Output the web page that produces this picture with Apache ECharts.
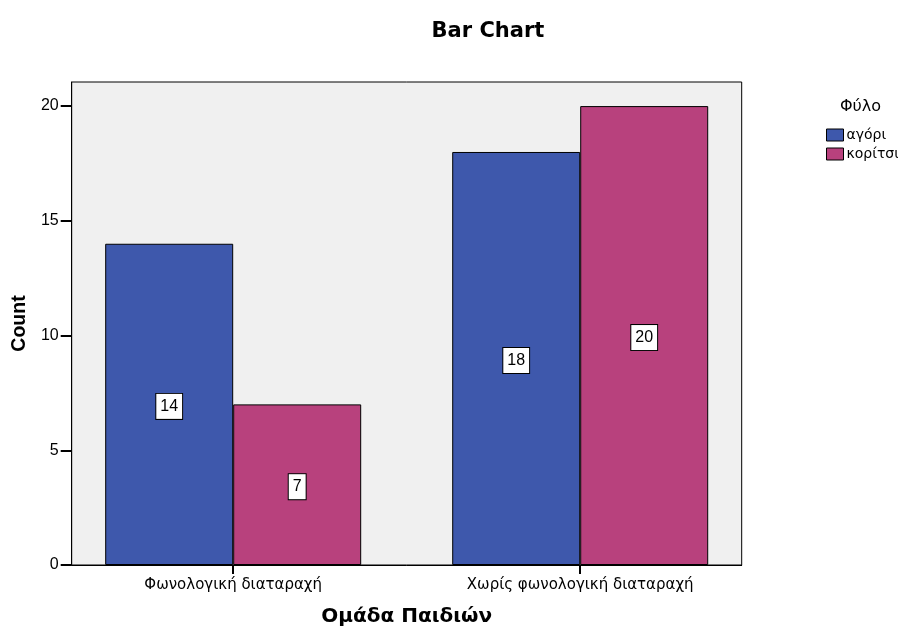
<!DOCTYPE html>
<html><head><meta charset="utf-8">
<script src="https://cdn.jsdelivr.net/npm/echarts@6/dist/echarts.min.js"></script>
<style>html,body{margin:0;padding:0;background:#fff}#c{width:898px;height:628px}</style>
</head><body><div id="c"></div>
<script>
var categories = ['Φωνολογική διαταραχή', 'Χωρίς φωνολογική διαταραχή'];
var seriesNames = ['αγόρι', 'κορίτσι'];
var boys = [14, 18];
var girls = [7, 20];
var yTicks = [0, 5, 10, 15, 20];

var ARIAL = '"Liberation Sans", Arial, sans-serif';
var WIDE = '"DejaVu Sans", Verdana, sans-serif';
function toPoints(vals){ return vals.map(function(v,i){ return [i, v]; }); }
var labelStyle = {
  show: true, position: 'inside', offset: [0, 2], color: '#000', fontSize: 16, fontFamily: ARIAL,
  backgroundColor: '#fff', borderColor: '#000', borderWidth: 1, padding: [5, 4, 4, 4]
};
var chart = echarts.init(document.getElementById('c'));
chart.setOption({
  animation: false,
  title: [
    { text: 'Bar Chart', left: 483, top: 16, textAlign: 'center',
      textStyle: { fontFamily: WIDE, fontSize: 21, fontWeight: 'bold', color: '#000' } },
    { text: 'Φύλο', left: 835, top: 94,
      textStyle: { fontFamily: WIDE, fontSize: 16, fontWeight: 'normal', color: '#000' } }
  ],
  legend: {
    orient: 'vertical', left: 821, top: 123, itemWidth: 17, itemHeight: 12, itemGap: 5,
    icon: 'rect', textStyle: { fontFamily: WIDE, fontSize: 14, color: '#000', padding: [0,0,0,-2] },
    itemStyle: { borderColor: '#000', borderWidth: 1 },
    data: seriesNames
  },
  grid: { left: 71.7, right: 156.3, top: 82, bottom: 63, show: true, outerBoundsMode: 'none',
    containLabel: false,
    backgroundColor: '#f0f0f0', borderColor: '#000', borderWidth: 1 },
  xAxis: {
    type: 'value', min: -0.4654, max: 1.4654,
    name: 'Ομάδα Παιδιών', nameLocation: 'middle', nameGap: 42,
    nameTextStyle: { fontFamily: WIDE, fontSize: 20, fontWeight: 'bold', color: '#000' },
    axisLine: { show: true, onZero: false, lineStyle: { color: '#000' } },
    axisTick: { show: true, length: 9, customValues: [0, 1], lineStyle: { color: '#000', width: 2 } },
    axisLabel: { customValues: [0, 1], formatter: function(v){ return categories[Math.round(v)]; },
      fontFamily: WIDE, fontSize: 15, color: '#000', margin: 13 },
    splitLine: { show: false }
  },
  yAxis: {
    type: 'value', min: 0, max: 21.05, interval: 5,
    name: 'Count', nameLocation: 'middle', nameGap: 42,
    nameTextStyle: { fontFamily: ARIAL, fontSize: 19.5, fontWeight: 'bold', color: '#000' },
    axisLine: { show: true, onZero: false, lineStyle: { color: '#000' } },
    axisTick: { show: true, length: 11, lineStyle: { color: '#000', width: 2 } },
    axisLabel: { showMaxLabel: false, fontFamily: ARIAL, fontSize: 16, color: '#000', margin: 13 },
    splitLine: { show: false }
  },
  series: [
    { name: seriesNames[0], type: 'bar', data: toPoints(boys), barWidth: 128, barGap: '0%',
      itemStyle: { color: '#3e58ac', borderColor: '#000', borderWidth: 1 }, label: labelStyle },
    { name: seriesNames[1], type: 'bar', data: toPoints(girls), barWidth: 128, barGap: '0%',
      itemStyle: { color: '#b8417d', borderColor: '#000', borderWidth: 1 }, label: labelStyle }
  ]
});
</script></body></html>
